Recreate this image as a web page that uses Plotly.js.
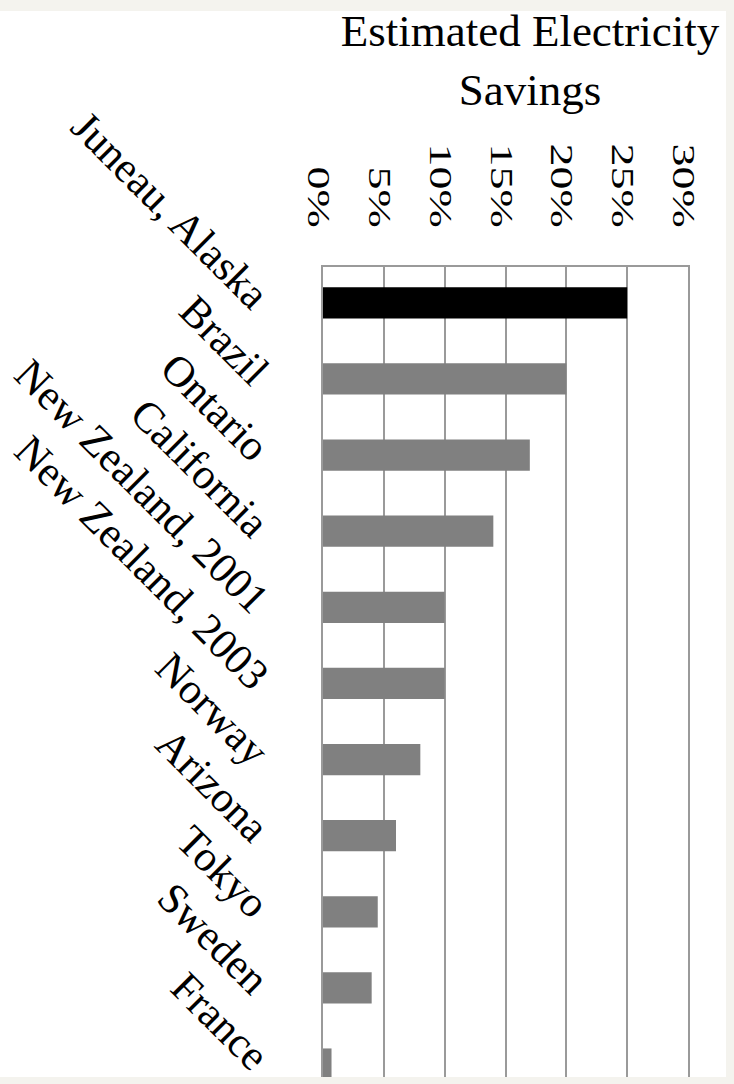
<!DOCTYPE html>
<html>
<head>
<meta charset="utf-8">
<script src="https://cdn.plot.ly/plotly-3.0.1.min.js"></script>
<style>
  html, body { margin: 0; padding: 0; background: #f4f3ee; width: 734px; height: 1084px; overflow: hidden; }
  #paper { position: absolute; left: 0; top: 11px; width: 726px; height: 1066px; background: #ffffff; }
  #chart { position: absolute; left: 0; top: 0; width: 734px; height: 1084px; }
</style>
</head>
<body>
<div id="paper"></div>
<div id="chart"></div>
<script>
const categories = ["Juneau, Alaska", "Brazil", "Ontario", "California", "New Zealand, 2001",
  "New Zealand, 2003", "Norway", "Arizona", "Tokyo", "Sweden", "France"];
const savingsPct = [25, 20, 17, 14, 10, 10, 8, 6, 4.5, 4, 0.7];
const barColors = ["#000000", "#808080", "#808080", "#808080", "#808080", "#808080",
  "#808080", "#808080", "#808080", "#808080", "#808080"];
const xTickVals = [0, 5, 10, 15, 20, 25, 30];
const xTickText = ["0%", "5%", "10%", "15%", "20%", "25%", "30%"];
const titleText = "Estimated Electricity<br>Savings";

const FONT = "Liberation Serif, Times New Roman, serif";

Plotly.newPlot("chart", [{
  type: "bar",
  orientation: "h",
  y: categories,
  x: savingsPct,
  marker: { color: barColors, line: { width: 0 } },
  hoverinfo: "none"
}], {
  width: 734,
  height: 1084,
  paper_bgcolor: "rgba(0,0,0,0)",
  plot_bgcolor: "#ffffff",
  margin: { l: 323, r: 46, t: 267, b: 7, pad: 0 },
  bargap: 0.59,
  showlegend: false,
  font: { family: FONT, color: "#000000" },
  title: {
    text: titleText,
    font: { family: FONT, size: 45, color: "#000000" },
    x: 530 / 734, xanchor: "center", xref: "container",
    y: 0.9574, yanchor: "top", yref: "container"
  },
  xaxis: {
    side: "top",
    range: [0, 30],
    tickvals: xTickVals,
    ticktext: xTickText,
    tickangle: 90,
    tickfont: { family: FONT, size: 46, color: "#000000" },
    ticks: "",
    ticklabelstandoff: 21,
    showgrid: true,
    gridcolor: "#9a9a9a",
    gridwidth: 2,
    showline: true,
    linecolor: "#9a9a9a",
    linewidth: 2,
    mirror: false,
    zeroline: false,
    fixedrange: true
  },
  yaxis: {
    type: "category",
    range: [10.17, -0.47],
    tickangle: 45,
    tickfont: { family: FONT, size: 43, color: "#000000" },
    ticks: "",
    ticklabelstandoff: 46,
    showgrid: false,
    showline: true,
    linecolor: "#9a9a9a",
    linewidth: 2,
    mirror: true,
    zeroline: false,
    fixedrange: true
  }
}, { displayModeBar: false, staticPlot: true }).then(function (gd) {
  // the reference's rotated percent labels have short, wide glyphs: squash their height
  gd.querySelectorAll(".xtick text").forEach(function (t) {
    const x = parseFloat(t.getAttribute("x")) || 0;
    const y = parseFloat(t.getAttribute("y")) || 0;
    const tr = t.getAttribute("transform") || "";
    t.setAttribute("transform", tr + " translate(" + x + "," + y + ") scale(1,0.7) translate(" + (-x) + "," + (-y) + ")");
  });
});
</script>
</body>
</html>
